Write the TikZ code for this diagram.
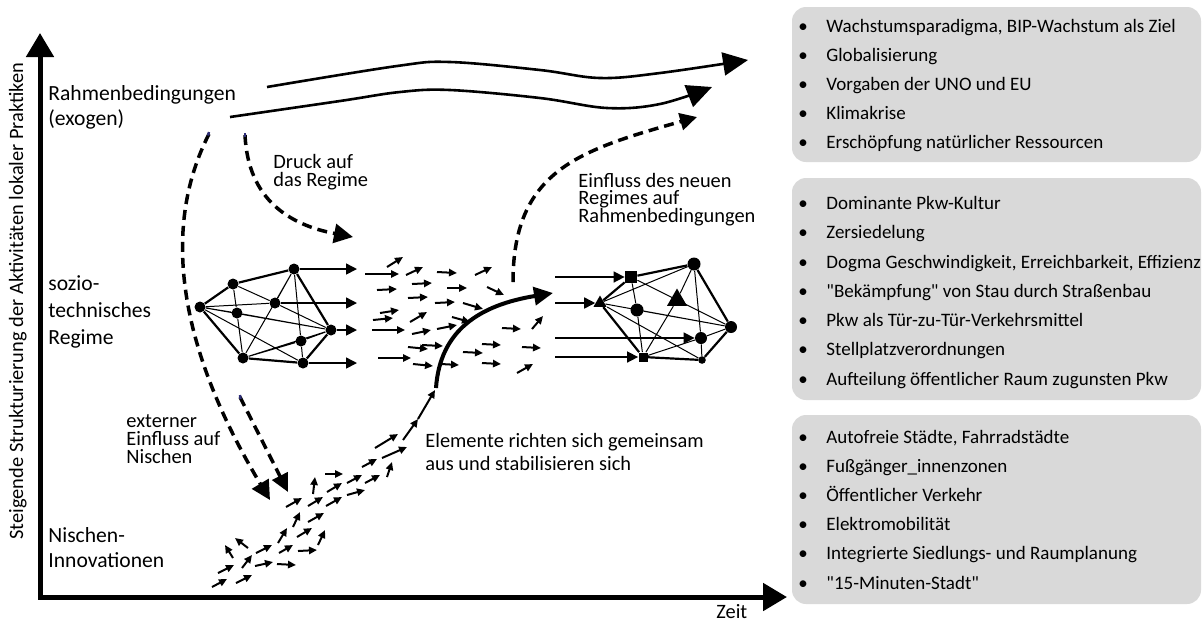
\documentclass[tikz,border=0pt]{standalone}
\usepackage{fontspec}
\setmainfont{Carlito}[Ligatures=TeXOff]
\usetikzlibrary{arrows.meta,shapes.geometric}
\definecolor{boxgray}{RGB}{217,217,217}
\definecolor{navymark}{RGB}{45,45,120}
\newcommand{\bulmark}{\makebox[14pt][l]{\textbullet}}
\newcommand{\linesat}[2]{\vtop{\baselineskip=#1\lineskiplimit=-\maxdimen\lineskip=0pt #2}}
\begin{document}
\begin{tikzpicture}[x=0.5pt,y=-0.5pt,
  lvl/.style={anchor=base west,inner sep=0,font=\fontsize{10.8}{13}\selectfont},
  note/.style={anchor=base west,inner sep=0,font=\fontsize{10.2}{12}\selectfont},
  item/.style={anchor=base west,inner sep=0,font=\fontsize{9.5}{11}\selectfont},
  axislabel/.style={rotate=90,anchor=base,inner sep=0,font=\fontsize{10.2}{12}\selectfont},
  axisline/.style={line width=2.5pt,{Triangle[length=12pt,width=13.5pt]}-{Triangle[length=12pt,width=13.5pt]}},
  dot/.style={circle,fill,inner sep=0,minimum size=5.5pt},
  sq/.style={rectangle,fill,inner sep=0,minimum size=#1},
  tri/.style={regular polygon,regular polygon sides=3,fill,inner sep=0,minimum size=#1},
  hull/.style={line width=1.1pt},
  inner/.style={line width=0.5pt},
  harrow/.style={line width=0.8pt,-{Triangle[length=5.5pt,width=5.5pt]}},
  small/.style={line width=1pt,-{Triangle[length=4pt,width=3.6pt]}},
  wave/.style={line width=1.3pt,-{Triangle[length=12.5pt,width=11.5pt]}},
  dashcurve/.style={line width=1.75pt,dash pattern=on 5pt off 3pt,-{Triangle[length=9.5pt,width=9.5pt]}},
  thickcurve/.style={line width=2pt,-{Triangle[length=9.5pt,width=9pt]}},
  tinymark/.style={navymark,line width=1.2pt},
]
\useasboundingbox (0,0) rectangle (1202,623);

% ---------- grey boxes ----------
\fill[boxgray,rounded corners=7pt] (792,7) rectangle (1201,162);
\fill[boxgray,rounded corners=7pt] (792,178) rectangle (1201,400);
\fill[boxgray,rounded corners=7pt] (792,415) rectangle (1201,604);

\node[item] (r1a) at (798,32) {\bulmark Wachstumsparadigma, BIP-Wachstum als Ziel};
\node[item] (r1b) at (798,61) {\bulmark Globalisierung};
\node[item] (r1c) at (798,90) {\bulmark Vorgaben der UNO und EU};
\node[item] (r1d) at (798,119) {\bulmark Klimakrise};
\node[item] (r1e) at (798,148) {\bulmark Erschöpfung natürlicher Ressourcen};

\node[item] (r2a) at (798,209) {\bulmark Dominante Pkw-Kultur};
\node[item] (r2b) at (798,238) {\bulmark Zersiedelung};
\node[item] (r2c) at (798,268) {\bulmark Dogma Geschwindigkeit, Erreichbarkeit, Effizienz};
\node[item] (r2d) at (798,297) {\bulmark "Bekämpfung" von Stau durch Straßenbau};
\node[item] (r2e) at (798,326) {\bulmark Pkw als Tür-zu-Tür-Verkehrsmittel};
\node[item] (r2f) at (798,355) {\bulmark Stellplatzverordnungen};
\node[item] (r2g) at (798,385) {\bulmark Aufteilung öffentlicher Raum zugunsten Pkw};

\node[item] (r3a) at (798,443) {\bulmark Autofreie Städte, Fahrradstädte};
\node[item] (r3b) at (798,472) {\bulmark Fußgänger\_innenzonen};
\node[item] (r3c) at (798,501) {\bulmark Öffentlicher Verkehr};
\node[item] (r3d) at (798,530) {\bulmark Elektromobilität};
\node[item] (r3e) at (798,559) {\bulmark Integrierte Siedlungs- und Raumplanung};
\node[item] (r3f) at (798,589) {\bulmark "15-Minuten-Stadt"};

% ---------- axes ----------
\coordinate (origin) at (40,597);
\coordinate (ytip) at (40,33);
\coordinate (xtip) at (787,597);
\draw[axisline] (ytip) -- (origin) -- (xtip);
\node[axislabel] (ylab) at (23,301) {Steigende Strukturierung der Aktivitäten lokaler Praktiken};
\node[note] (xlab) at (716,618) {Zeit};

% ---------- level labels ----------
\node[lvl] (lvl1) at (48,100) {\linesat{12.5pt}{\hbox{Rahmenbedingungen}\hbox{(exogen)}}};
\node[lvl] (lvl2) at (48,290) {\linesat{13.5pt}{\hbox{sozio-}\hbox{technisches}\hbox{Regime}}};
\node[lvl] (lvl3) at (48,542) {\linesat{12.5pt}{\hbox{Nischen-}\hbox{Innovationen}}};

% ---------- annotations ----------
\node[note] (druck) at (273,168) {\linesat{9pt}{\hbox{Druck auf}\hbox{das Regime}}};
\node[note] (einfl) at (578,187) {\linesat{8.75pt}{\hbox{Einfluss des neuen}\hbox{Regimes auf}\hbox{Rahmenbedingungen}}};
\node[note] (ext) at (126,427) {\linesat{9pt}{\hbox{externer}\hbox{Einfluss auf}\hbox{Nischen}}};
\node[note] (elem) at (425,447) {\linesat{11.5pt}{\hbox{Elemente richten sich gemeinsam}\hbox{aus und stabilisieren sich}}};

% ---------- landscape waves ----------
\draw[wave] plot[smooth,tension=0.6] coordinates {(267,87) (397,66) (450,62) (540,70) (600,78) (660,73) (748,60)};
\draw[wave] plot[smooth,tension=0.6] coordinates {(230,117) (340,101) (400,92) (450,90) (540,98) (607,108) (660,104) (712,87)};

% ---------- dashed influences ----------
\coordinate (dstartA) at (209,134);
\coordinate (dendA) at (270,500);
\draw[dashcurve] (dstartA) .. controls (160,230) and (180,350) .. (dendA);
\coordinate (dstartB) at (245,135);
\coordinate (dendB) at (353,237);
\draw[dashcurve] (dstartB) .. controls (248,200) and (290,225) .. (dendB);
\coordinate (dstartC) at (240,397);
\coordinate (dendC) at (288,492);
\draw[dashcurve,-{Triangle[length=9pt,width=8.5pt]}] (dstartC) -- (dendC);
\coordinate (dstartD) at (513,282);
\coordinate (dendD) at (697,117);
\draw[dashcurve,-{Triangle[length=8.5pt,width=8.5pt]}] (dstartD) .. controls (513,170) and (580,150) .. (dendD);
\draw[tinymark] (209,132) -- (208,135.5);
\draw[tinymark] (245,133) -- (245,137);
\draw[tinymark] (240,395) -- (240.5,399);

% ---------- regime network 1 ----------
\node[dot] (a) at (200,307) {};
\node[dot] (b) at (233,284) {};
\node[dot] (c) at (294,269) {};
\node[dot] (d) at (275,303) {};
\node[dot] (e) at (237,313) {};
\node[dot] (f) at (331,330) {};
\node[dot] (g) at (301,341) {};
\node[dot] (h) at (243,358) {};
\node[dot] (i) at (303,363) {};
\draw[hull] (a)--(b) (b)--(c) (c)--(f) (f)--(i) (i)--(h) (h)--(a);
\draw[inner] (a)--(d) (a)--(e) (a)--(f) (a)--(i) (b)--(d) (b)--(e) (e)--(h)
  (c)--(d) (d)--(f) (c)--(h) (c)--(g) (e)--(f) (h)--(g) (h)--(f) (g)--(i) (g)--(f);
\coordinate (o1) at (357,269);
\coordinate (o2) at (357,303);
\coordinate (o3) at (357,330);
\coordinate (o4) at (357,363);
\draw[harrow] (c) -- (o1);
\draw[harrow] (d) -- (o2);
\draw[harrow] (f) -- (o3);
\draw[harrow] (i) -- (o4);

% ---------- unaligned elements (regime) ----------
\foreach \ax/\ay/\bx/\by in {387/267/403/257, 365/274/399/274, 406/275/423/267, 437/272/457/273,
  475/275/492/267, 377/290/397/289, 412/284/432/283, 447/288/467/288, 487/287/504/295,
  408/298/428/297, 435/303/455/302, 463/303/483/309, 380/313/399/310, 373/320/393/318,
  410/322/427/312, 372/330/405/330, 412/334/431/330, 437/329/457/325, 452/317/470/322,
  502/328/521/329, 532/329/543/316, 408/347/428/349, 422/345/443/346, 463/352/483/353,
  482/344/501/345, 522/347/541/348, 378/358/411/358, 413/364/433/366, 441/364/459/365,
  482/363/501/364, 517/373/533/364}
  \draw[small] (\ax,\ay) -- (\bx,\by);

% ---------- niche elements ----------
\foreach \ax/\ay/\bx/\by in {212/587/227/579, 236/583/252/575, 218/573/234/565, 242/568/252/555,
  233/558/225/545, 248/548/235/538, 256/553/272/545, 255/566/273/562, 277/564/296/565,
  279/553/293/545, 278/543/287/528, 297/537/312/528, 298/551/317/550, 318/545/325/530,
  293/527/300/512, 308/522/324/513, 286/507/302/498, 308/506/323/497, 313/494/315/477,
  326/506/342/497, 327/492/342/483, 325/474/343/474, 347/495/365/490, 347/483/362/475,
  365/483/380/475, 362/467/377/459, 387/477/392/462, 375/448/398/434, 382/458/407/447,
  403/440/418/419, 418/419/435/390}
  \draw[small] (\ax,\ay) -- (\bx,\by);

% ---------- breakthrough curve ----------
\coordinate (bstart) at (436,388);
\coordinate (bend) at (553,293);
\draw[thickcurve] (bstart) .. controls (440,330) and (480,305) .. (bend);

% ---------- new regime network 2 ----------
\node[sq=6pt] (s1) at (631,277) {};
\node[tri=7.5pt] (t1) at (600,303) {};
\node[dot,minimum size=6.5pt] (n1) at (694,264) {};
\node[tri=11.5pt] (t2) at (677,300) {};
\node[dot,minimum size=6.5pt] (n2) at (637,310) {};
\node[dot,minimum size=6pt] (n3) at (731,327) {};
\node[dot,minimum size=6pt] (n4) at (701,338) {};
\node[sq=4.5pt] (s2) at (643,357) {};
\node[dot,minimum size=3.8pt] (n5) at (702,360) {};
\draw[hull] (t1)--(s1) (s1)--(n1) (n1)--(n3) (n3)--(n5) (n5)--(s2) (s2)--(t1);
\draw[inner] (t1)--(n1) (t1)--(n3) (t1)--(n5) (s1)--(n2) (n2)--(s2) (s1)--(n3)
  (n1)--(t2) (t2)--(s2) (n1)--(n4) (n4)--(n5) (s2)--(n4) (n4)--(n3) (n2)--(n3);
\coordinate (i1) at (555,277);
\coordinate (i2) at (555,303);
\coordinate (i3) at (555,338);
\coordinate (i4) at (555,357);
\draw[harrow] (i1) -- (s1);
\draw[harrow] (i2) -- (t1);
\draw[harrow] (i3) -- (n4);
\draw[harrow] (i4) -- (s2);
\end{tikzpicture}
\end{document}
